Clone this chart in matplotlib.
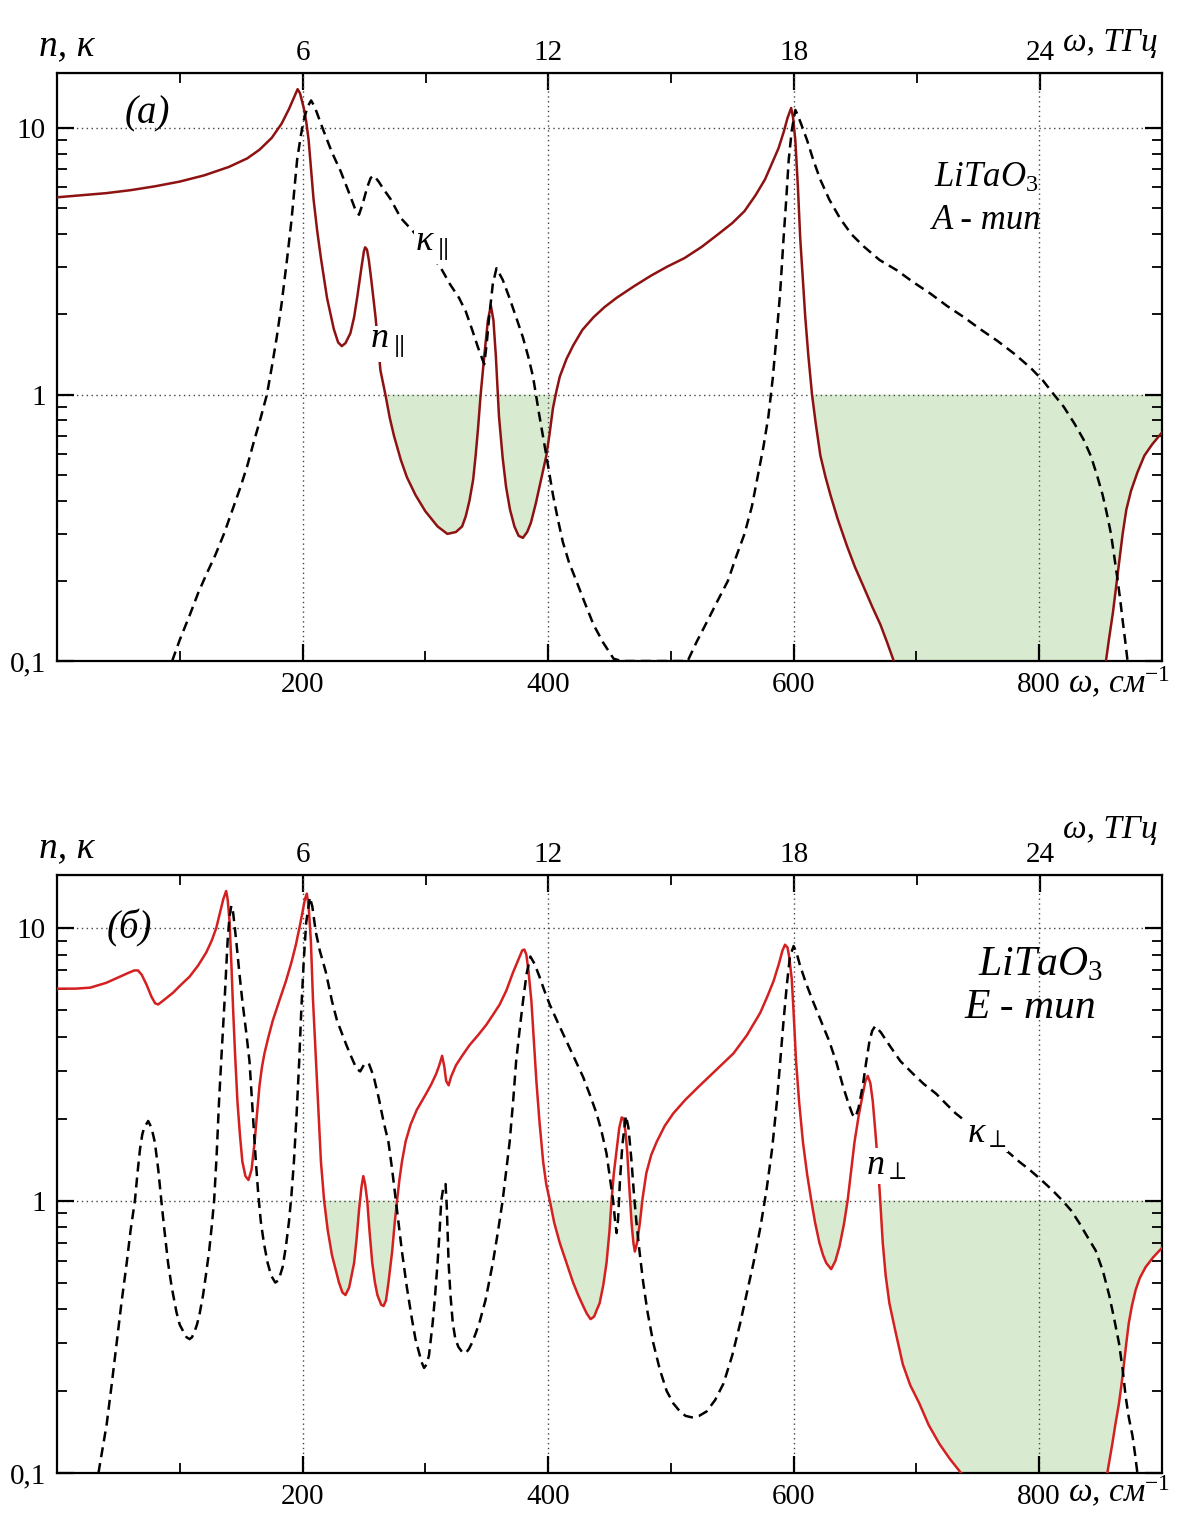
import numpy as np
import matplotlib.pyplot as plt
from matplotlib.ticker import FixedLocator, FixedFormatter, LogLocator, NullFormatter

plt.rcParams['font.family'] = ['Liberation Serif', 'DejaVu Serif']
plt.rcParams['mathtext.fontset'] = 'custom'
plt.rcParams['mathtext.rm'] = 'Liberation Serif'
plt.rcParams['mathtext.it'] = 'Liberation Serif:italic'

# ---- panel (а): A-type, parallel ----
na_x = [0, 20, 40, 60, 80, 100, 120, 140, 155, 165, 175, 183, 189, 193, 196, 198, 201, 203, 205, 207, 209, 212,
        215, 220, 225.5, 229, 232, 235, 239, 242, 244.5, 248, 250, 251, 252.5, 254, 256, 259.5, 263.5, 267.7, 271,
        274.5, 280, 285, 292, 300, 310, 318, 325, 330, 333, 336, 339, 341, 343, 345, 348, 351, 353.4, 355.5,
        357.5, 360, 363, 365.8, 369, 372.6, 376, 379.5, 383, 386, 390, 393, 396, 398.6, 401, 404, 407, 409.6,
        415, 420.5, 428, 437, 446, 456, 470, 483.6, 497, 511, 525, 538, 550, 560, 569, 576.7, 582, 587.7, 592,
        595, 598, 599.5, 601.4, 603.5, 605.4, 607.5, 609.5, 612, 615, 618, 621.8, 626, 630, 636, 643.5, 650, 657,
        664, 670.7, 676, 681.6, 720, 800, 840, 854.4, 857, 860, 864, 868, 871, 874.8, 880, 885.7, 892, 900]
na_y = [5.5, 5.6, 5.7, 5.85, 6.05, 6.3, 6.65, 7.15, 7.7, 8.3, 9.2, 10.4, 11.8, 13.0, 14.0, 13.5, 11.9, 10.6, 9.0,
        7.0, 5.4, 4.1, 3.25, 2.3, 1.76, 1.57, 1.52, 1.56, 1.7, 1.95, 2.31, 3.0, 3.45, 3.57, 3.5, 3.2, 2.7, 1.95,
        1.23, 0.99, 0.82, 0.70, 0.57, 0.49, 0.42, 0.365, 0.32, 0.30, 0.305, 0.32, 0.35, 0.40, 0.48, 0.59, 0.75,
        0.99, 1.39, 1.9, 2.16, 1.9, 1.39, 0.83, 0.58, 0.45, 0.37, 0.32, 0.295, 0.29, 0.305, 0.33, 0.39, 0.45,
        0.52, 0.59, 0.7, 0.89, 1.04, 1.17, 1.36, 1.53, 1.75, 1.95, 2.13, 2.31, 2.55, 2.79, 3.02, 3.25, 3.58,
        3.98, 4.4, 4.88, 5.6, 6.42, 7.3, 8.4, 9.7, 10.9, 11.9, 11.0, 9.0, 6.0, 3.85, 2.7, 1.95, 1.4, 1.0, 0.78,
        0.59, 0.49, 0.42, 0.34, 0.27, 0.225, 0.19, 0.16, 0.137, 0.118, 0.1, 0.07, 0.06, 0.07, 0.1, 0.122, 0.151,
        0.213, 0.30, 0.37, 0.435, 0.51, 0.59, 0.65, 0.72]

ka_x = [93.8, 100, 108.7, 115, 122, 129, 136, 143, 149.5, 155, 160, 166, 171, 175, 179, 183, 187.5, 191, 195.6,
        198.5, 201, 204, 207, 210, 213, 217.4, 224, 231, 238, 243, 246, 249, 252.7, 255.5, 258, 262, 266, 271.7,
        280, 290, 300, 307, 313.7, 320, 327.4, 333, 338, 343, 348, 350, 352, 355, 358, 363, 368.5, 374, 379.5,
        384, 387.7, 393, 398.6, 404, 408, 412, 417, 423, 430, 437, 445, 453.4, 460, 480, 500, 513.7, 521, 530,
        538, 546.5, 553, 560, 566, 571, 575.5, 579.5, 583, 586, 589, 591.8, 594, 596, 598.5, 601.4, 603, 606,
        611, 616, 621.8, 629, 638, 647, 657, 670, 684, 697, 711.6, 725, 738.8, 752, 766, 780, 793, 803, 812,
        820, 828.6, 836, 842, 847, 851.7, 855, 858.5, 861, 864, 866, 868, 870, 872]
ka_y = [0.1, 0.12, 0.151, 0.18, 0.213, 0.25, 0.30, 0.37, 0.45, 0.54, 0.656, 0.82, 1.0, 1.27, 1.64, 2.2, 3.25, 4.5,
        7.6, 9.3, 10.7, 12.0, 12.7, 12.0, 11.0, 9.7, 8.1, 6.9, 5.7, 4.95, 4.73, 5.2, 6.0, 6.5, 6.64, 6.3, 5.9,
        5.42, 4.6, 4.1, 3.6, 3.25, 2.93, 2.6, 2.31, 2.05, 1.76, 1.5, 1.30, 1.55, 1.95, 2.6, 2.98, 2.7, 2.31,
        1.95, 1.64, 1.38, 1.17, 0.83, 0.59, 0.42, 0.34, 0.28, 0.235, 0.20, 0.165, 0.137, 0.117, 0.102, 0.1, 0.1,
        0.1, 0.1, 0.118, 0.142, 0.168, 0.2, 0.245, 0.30, 0.38, 0.50, 0.64, 0.83, 1.15, 1.64, 2.4, 3.85, 5.4,
        7.6, 9.8, 11.7, 11.3, 10.4, 9.0, 7.6, 6.4, 5.4, 4.57, 4.0, 3.6, 3.2, 2.93, 2.65, 2.39, 2.15, 1.95, 1.76,
        1.59, 1.42, 1.26, 1.13, 1.0, 0.9, 0.78, 0.68, 0.59, 0.5, 0.42, 0.36, 0.30, 0.25, 0.2, 0.17, 0.142, 0.12,
        0.1]

# ---- panel (б): E-type, perpendicular ----
nb_x = [0, 15, 27, 40, 50, 58, 63, 66, 69, 73, 77, 80, 82.4, 86, 94.6, 101, 108, 115, 121.6, 126, 129.7, 133,
        135.5, 137.8, 139, 140.5, 142, 143.5, 145, 147, 149, 151, 153.5, 156, 158.5, 161, 163, 165, 167, 169, 172,
        175.7, 181, 186.5, 191, 194.6, 198, 200, 202, 203.5, 205, 206.8, 208.5, 211, 213, 215, 217.6, 220.5, 224,
        229.7, 232.5, 235, 238, 242, 244, 246, 248, 249.5, 251, 252.7, 254.5, 256.8, 259, 261, 264, 266, 268, 270,
        273, 275, 277, 279, 281, 284, 288, 293, 300.7, 305, 309, 311.5, 313.7, 315.5, 317, 319, 321, 325, 330,
        336, 343, 349.7, 355, 360.5, 366, 371.4, 375.5, 379, 380.7, 382.3, 384, 386.4, 388.5, 390.5, 393, 396,
        398.5, 401.4, 405, 409.5, 415, 420.4, 424.5, 428.6, 431.5, 434.6, 437.5, 440, 442, 445, 447.6, 450,
        451.7, 453.5, 455.8, 458, 460, 461.5, 463, 464.5, 466, 468, 469.5, 470.7, 472.5, 474.8, 477, 480, 484,
        488.4, 495, 502, 512, 523.8, 537, 551, 562, 572.8, 578.5, 583.7, 588, 591, 593, 595, 596.5, 598.5, 600,
        602, 604.5, 607.6, 611, 614.4, 617.5, 621, 624, 626.6, 630.6, 634, 637.4, 641, 644, 647, 649.6, 653,
        656.4, 658.5, 660.4, 662.5, 664.5, 667, 670, 672.6, 675, 678, 683, 689, 695, 702.4, 710, 718.7, 727,
        736.3, 760, 800, 840, 855.5, 857.5, 859.6, 862, 865, 867, 869, 871, 873, 875.5, 878.6, 882, 886.7, 893,
        900]
nb_y = [6.0, 6.0, 6.05, 6.3, 6.6, 6.85, 7.0, 7.0, 6.75, 6.2, 5.6, 5.3, 5.25, 5.4, 5.8, 6.2, 6.64, 7.3, 8.15, 9.0,
        10, 11.5, 12.8, 13.7, 12.8, 10.7, 7.5, 5.0, 3.5, 2.31, 1.75, 1.39, 1.23, 1.19, 1.3, 1.64, 2.1, 2.65, 3.1,
        3.47, 3.95, 4.57, 5.4, 6.4, 7.5, 8.7, 10.3, 11.5, 12.8, 13.4, 12.0, 9.0, 5.5, 3.25, 2.1, 1.39, 1.0, 0.78,
        0.63, 0.50, 0.46, 0.45, 0.48, 0.59, 0.72, 0.92, 1.12, 1.23, 1.15, 1.0, 0.78, 0.59, 0.5, 0.45, 0.415,
        0.41, 0.43, 0.5, 0.65, 0.82, 1.0, 1.2, 1.39, 1.65, 1.9, 2.15, 2.47, 2.68, 2.93, 3.15, 3.40, 3.1, 2.75,
        2.65, 2.85, 3.14, 3.4, 3.72, 4.05, 4.42, 4.8, 5.24, 5.9, 6.87, 7.6, 8.3, 8.35, 8.0, 7.0, 5.42, 3.8, 2.74,
        1.95, 1.39, 1.15, 1.0, 0.83, 0.70, 0.59, 0.50, 0.45, 0.41, 0.385, 0.367, 0.375, 0.4, 0.42, 0.49, 0.59,
        0.77, 1.0, 1.25, 1.53, 1.85, 2.02, 2.0, 1.8, 1.5, 1.15, 0.83, 0.7, 0.65, 0.7, 0.83, 1.02, 1.26, 1.47,
        1.64, 1.88, 2.09, 2.35, 2.65, 3.02, 3.47, 4.05, 4.89, 5.6, 6.4, 7.4, 8.3, 8.7, 8.5, 7.8, 6.5, 4.9, 3.25,
        2.3, 1.64, 1.25, 1.0, 0.83, 0.70, 0.63, 0.59, 0.56, 0.6, 0.68, 0.82, 1.0, 1.3, 1.64, 2.05, 2.47, 2.75,
        2.87, 2.7, 2.31, 1.70, 1.1, 0.70, 0.53, 0.42, 0.33, 0.25, 0.21, 0.18, 0.15, 0.128, 0.113, 0.1, 0.08,
        0.07, 0.08, 0.1, 0.113, 0.128, 0.15, 0.18, 0.21, 0.25, 0.3, 0.355, 0.41, 0.47, 0.52, 0.57, 0.62, 0.67]

kb_x = [33.8, 37, 40.5, 44.5, 48.6, 52.5, 56.8, 60, 63.5, 65.5, 67.6, 69.5, 71, 74.3, 77, 79.7, 82.5, 85, 87.5,
        90.5, 93.5, 97.3, 100, 103, 105.5, 108, 110, 112, 114, 116, 119, 121.5, 124, 126, 128, 130, 132, 134,
        136.5, 139, 140.5, 142, 143.5, 146, 148.5, 151, 154, 156.8, 159.5, 162, 164, 166, 168.5, 171.6, 174.5,
        177.8, 180.5, 183.8, 186.5, 189, 191, 193, 195, 197.3, 199, 201, 203, 206, 208, 210.8, 214, 219, 224,
        228, 232, 236, 240, 244, 247, 250, 252, 254, 258, 262, 266, 270, 273, 276, 281, 285, 289, 292, 294.6,
        297, 299, 301, 303, 306, 308, 310, 311.5, 313, 314.5, 316.5, 317.5, 319, 320.5, 322.4, 324.5, 327, 330,
        332.8, 335.5, 338, 341, 344, 349, 355, 359, 363, 366, 368.7, 371.5, 374, 377, 379.6, 382.5, 385.6, 389,
        393, 397, 401.4, 408, 415, 422, 428.6, 434, 439.5, 443.5, 447.6, 450.5, 453, 454.5, 455.8, 457, 458.5,
        460.5, 463.4, 465.5, 468, 470, 472, 474.5, 477.5, 481, 485.7, 491, 496.6, 502, 507.5, 512, 517, 523,
        529, 536, 542.9, 550, 556.5, 562, 567.3, 573, 578, 582.5, 586.4, 589, 591.8, 594.5, 597, 600, 602.5,
        605, 610, 615.7, 622, 629, 635, 640, 645, 648, 650.4, 653, 656.4, 659, 661.8, 664, 666.4, 671, 678, 687,
        697, 706, 716, 724, 732, 750, 768.8, 776, 783.7, 792, 800, 810, 819, 826, 832.5, 839, 846, 852, 857, 861,
        865, 868, 870.5, 873, 876, 878, 880]
kb_y = [0.1, 0.122, 0.151, 0.21, 0.30, 0.42, 0.59, 0.78, 1.0, 1.25, 1.54, 1.75, 1.85, 1.96, 1.85, 1.64, 1.3, 1.0,
        0.78, 0.59, 0.48, 0.39, 0.35, 0.33, 0.315, 0.31, 0.315, 0.33, 0.35, 0.38, 0.45, 0.54, 0.656, 0.8, 1.0,
        1.45, 2.31, 3.4, 5.4, 9.0, 11.0, 12.1, 11.4, 9.0, 6.9, 5.4, 4.2, 3.25, 2.1, 1.39, 1.05, 0.84, 0.7, 0.59,
        0.53, 0.50, 0.51, 0.57, 0.68, 0.84, 1.05, 1.39, 2.0, 3.25, 5.0, 7.6, 10.5, 13.0, 12.0, 9.7, 8.3, 6.9,
        5.4, 4.6, 4.12, 3.7, 3.35, 3.05, 2.98, 3.15, 3.2, 3.19, 2.85, 2.39, 1.95, 1.64, 1.3, 1.0, 0.65, 0.48,
        0.37, 0.31, 0.28, 0.255, 0.243, 0.25, 0.27, 0.355, 0.45, 0.59, 0.75, 1.0, 1.1, 1.15, 0.95, 0.59, 0.45,
        0.355, 0.31, 0.29, 0.278, 0.275, 0.285, 0.3, 0.325, 0.355, 0.43, 0.59, 0.76, 1.0, 1.3, 1.64, 2.3, 3.25,
        4.3, 5.4, 6.8, 7.87, 7.4, 6.64, 5.9, 5.24, 4.5, 3.85, 3.3, 2.84, 2.45, 2.09, 1.8, 1.49, 1.2, 1.0, 0.85,
        0.76, 0.85, 1.17, 1.6, 2.05, 1.85, 1.39, 1.05, 0.83, 0.65, 0.50, 0.39, 0.30, 0.24, 0.2, 0.18, 0.168,
        0.162, 0.16, 0.162, 0.168, 0.185, 0.213, 0.27, 0.355, 0.46, 0.59, 0.8, 1.1, 1.55, 2.31, 3.2, 4.57, 6.2,
        7.87, 8.6, 8.1, 7.36, 6.3, 5.4, 4.6, 3.85, 3.2, 2.65, 2.25, 2.07, 2.02, 2.2, 2.65, 3.2, 3.85, 4.2, 4.37,
        4.15, 3.72, 3.25, 2.93, 2.68, 2.47, 2.27, 2.09, 1.8, 1.58, 1.49, 1.39, 1.3, 1.21, 1.1, 1.0, 0.92, 0.83,
        0.74, 0.656, 0.55, 0.45, 0.37, 0.30, 0.24, 0.19, 0.16, 0.137, 0.118, 0.1]

x_ticks = [200, 400, 600, 800]
x_minor = [100, 300, 500, 700]
thz_ticks = [6, 12, 18, 24]
thz_minor = [3, 9, 15, 21]
y_ticks = [0.1, 1, 10]
y_labels = ['0,1', '1', '10']
CM_PER_THZ = 33.356

fill_col = '#d8ebd0'
grid_kw = dict(color='#444444', lw=1.0, ls=(0, (1, 2.5)), zorder=1.5)


def setup_axes(ax, ytop):
    ax.set_yscale('log')
    ax.set_xlim(0, 900)
    ax.set_ylim(0.1, ytop)
    ax.xaxis.set_major_locator(FixedLocator(x_ticks))
    ax.xaxis.set_minor_locator(FixedLocator(x_minor))
    ax.yaxis.set_major_locator(FixedLocator(y_ticks))
    ax.yaxis.set_major_formatter(FixedFormatter(y_labels))
    ax.yaxis.set_minor_locator(LogLocator(base=10, subs=np.arange(2, 10)))
    ax.yaxis.set_minor_formatter(NullFormatter())
    ax.tick_params(which='both', direction='in', right=True, labelsize=21, pad=8)
    ax.tick_params(which='major', length=12, width=1.6)
    ax.tick_params(which='minor', length=7, width=1.3)
    for s in ax.spines.values():
        s.set_linewidth(1.6)
    for xv in x_ticks:
        ax.axvline(xv, **grid_kw)
    for yv in [1, 10]:
        ax.axhline(yv, **grid_kw)
    sec = ax.secondary_xaxis('top', functions=(lambda x: x / CM_PER_THZ, lambda t: t * CM_PER_THZ))
    sec.xaxis.set_major_locator(FixedLocator(thz_ticks))
    sec.xaxis.set_minor_locator(FixedLocator(thz_minor))
    sec.tick_params(which='both', direction='in', labelsize=21, pad=5)
    sec.tick_params(which='major', length=12, width=1.6)
    sec.tick_params(which='minor', length=7, width=1.3)


def draw_panel(ax, nx, ny, kx, ky, ncol):
    nx_a, ny_a = np.array(nx), np.array(ny)
    ax.fill_between(nx_a, ny_a, 1, where=ny_a < 1, interpolate=True, color=fill_col, lw=0, zorder=1)
    ax.plot(nx_a, ny_a, color=ncol, lw=1.8, zorder=3)
    ax.plot(kx, ky, color='black', lw=1.8, dashes=(4, 2.4), zorder=3)


fig = plt.figure(figsize=(11.77, 15.21), dpi=100)
ax1 = fig.add_axes([0.0484, 0.5654, 0.9388, 0.3866])
ax2 = fig.add_axes([0.0484, 0.0316, 0.9388, 0.3932])

setup_axes(ax1, 16.1)
setup_axes(ax2, 15.7)
draw_panel(ax1, na_x, na_y, ka_x, ka_y, '#8e1212')
draw_panel(ax2, nb_x, nb_y, kb_x, kb_y, '#d42020')

lbl_box = dict(facecolor='white', edgecolor='none', pad=1)
it = dict(style='italic', zorder=5)

# panel (а) text
ax1.text(74, 11.3, '(а)', fontsize=28, ha='center', va='center', **it)
ax1.text(757, 6.5, 'LiTaO$_\\mathit{3}$', fontsize=25, ha='center', va='center', **it)
ax1.text(757, 4.5, 'A - тип', fontsize=25, ha='center', va='center', **it)
ax1.text(255, 1.55, 'n$_{\\parallel}$', fontsize=26, ha='left', va='center', bbox=lbl_box, **it)
ax1.text(292, 3.6, 'κ$_{\\parallel}$', fontsize=26, ha='left', va='center', bbox=lbl_box, **it)

# panel (б) text
ax2.text(59, 10, '(б)', fontsize=28, ha='center', va='center', **it)
ax2.text(801, 7.3, 'LiTaO$_\\mathit{3}$', fontsize=30, ha='center', va='center', **it)
ax2.text(793, 5.1, 'E - тип', fontsize=30, ha='center', va='center', **it)
ax2.text(659, 1.34, 'n$_{\\perp}$', fontsize=26, ha='left', va='center', bbox=lbl_box, **it)
ax2.text(741, 1.75, 'κ$_{\\perp}$', fontsize=26, ha='left', va='center', bbox=lbl_box, **it)

# axis captions
for ytop, ythz, ycm in [(0.970, 0.972, 0.551), (0.4425, 0.4543, 0.019)]:
    fig.text(0.057, ytop, 'n, κ', fontsize=27, ha='center', va='center', style='italic')
    fig.text(0.984, ythz, 'ω, ТГц', fontsize=24, ha='right', va='center', style='italic')
    fig.text(0.907, ycm, 'ω, см$^{\\mathit{-1}}$', fontsize=24, ha='left', va='center', style='italic')

fig.savefig('out.png', dpi=100)
